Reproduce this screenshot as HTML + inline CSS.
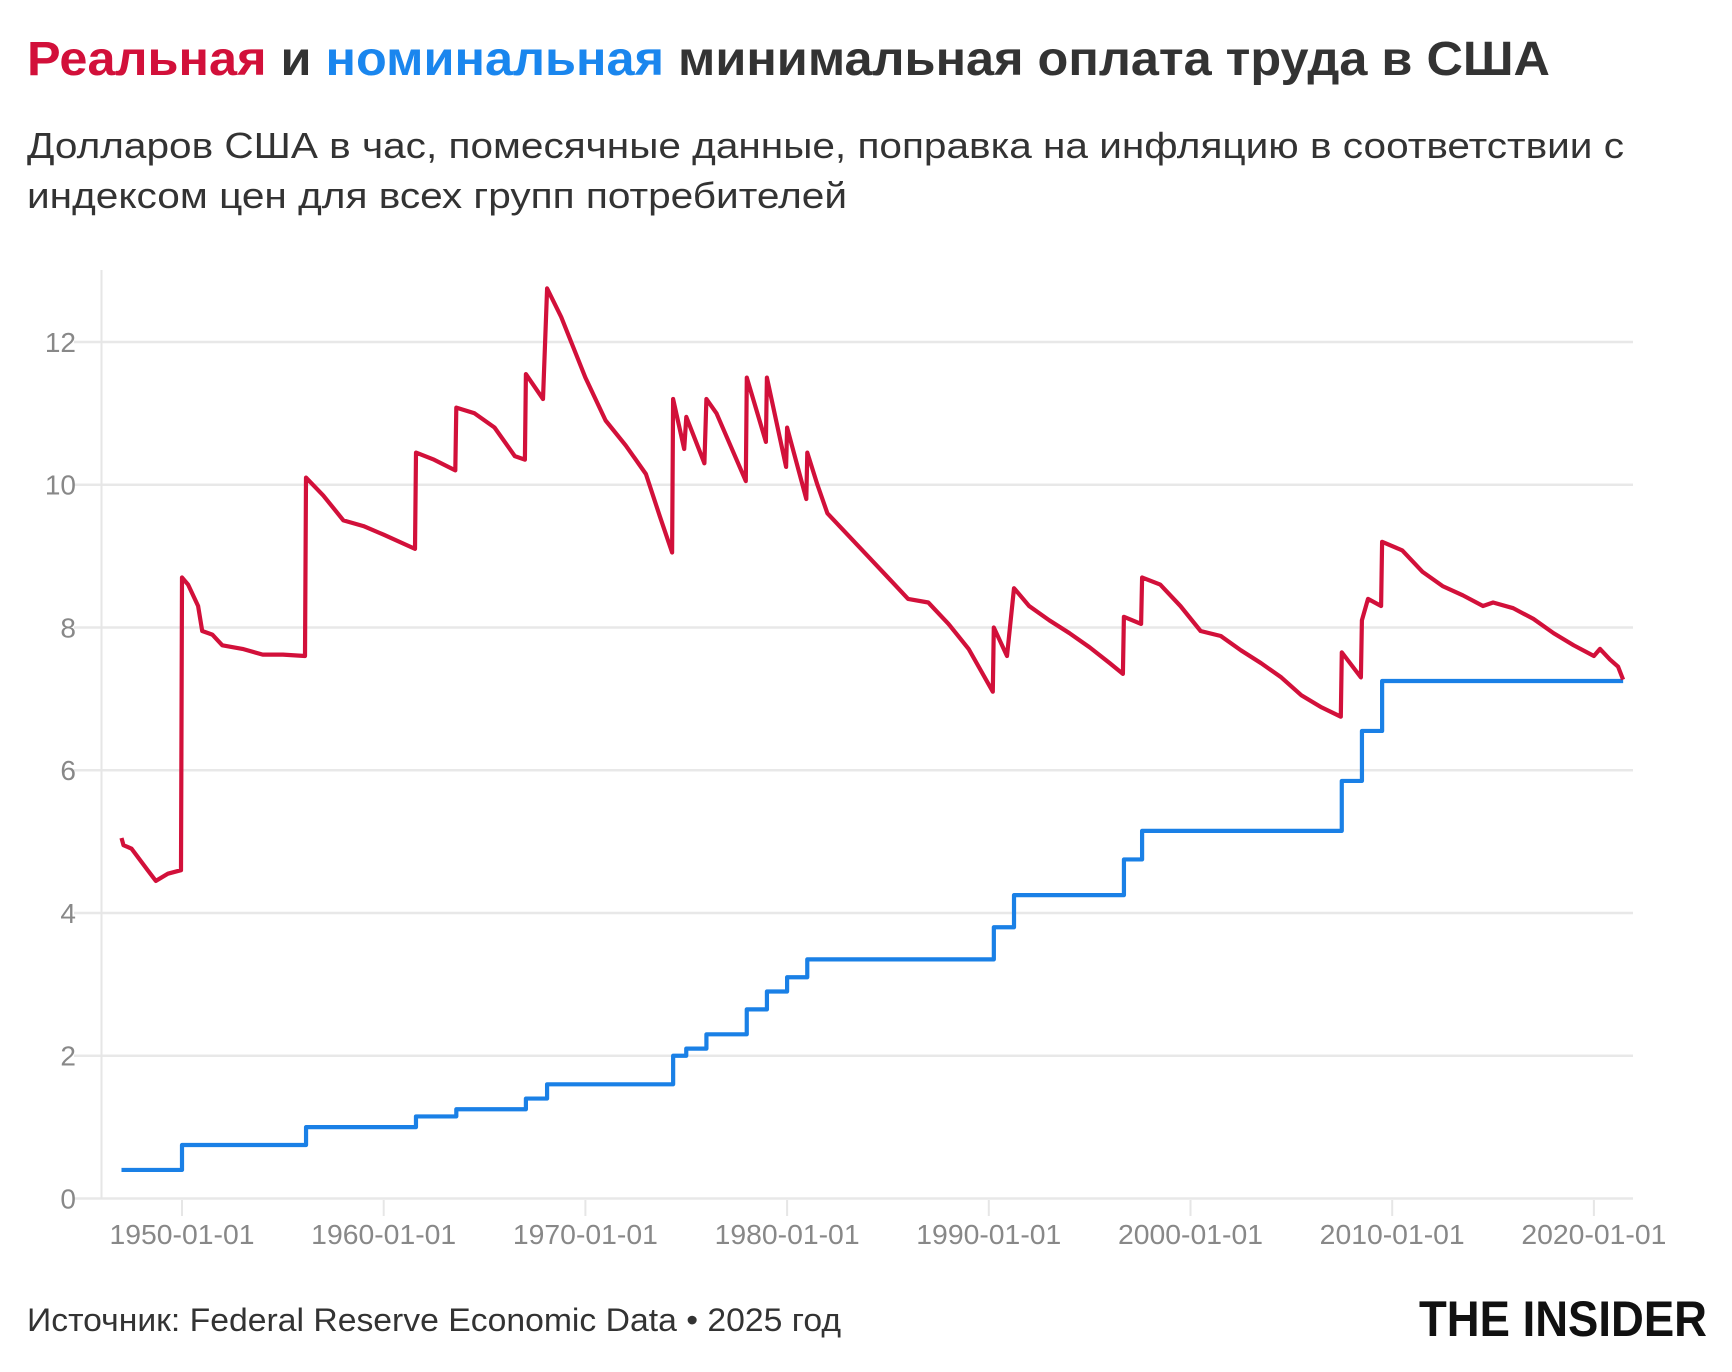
<!DOCTYPE html>
<html><head><meta charset="utf-8"><style>
html,body{margin:0;padding:0;background:#fff;}
svg{display:block;}
</style></head><body>
<svg id="s" width="1732" height="1372" viewBox="0 0 1732 1372" xmlns="http://www.w3.org/2000/svg">
<text x="27" y="75" font-family="Liberation Sans, sans-serif" font-weight="bold" font-size="48" textLength="1523" lengthAdjust="spacingAndGlyphs"><tspan fill="#d2103a">Реальная</tspan><tspan fill="#333"> и </tspan><tspan fill="#1a86ee">номинальная</tspan><tspan fill="#333"> минимальная оплата труда в США</tspan></text>
<text x="27" y="158" font-family="Liberation Sans Narrow, Liberation Sans, sans-serif" font-size="36" fill="#333" textLength="1597" lengthAdjust="spacingAndGlyphs">Долларов США в час, помесячные данные, поправка на инфляцию в соответствии с</text>
<text x="27" y="208" font-family="Liberation Sans Narrow, Liberation Sans, sans-serif" font-size="36" fill="#333" textLength="820" lengthAdjust="spacingAndGlyphs">индексом цен для всех групп потребителей</text>
<g id="grid"></g>
<line x1="101.5" y1="270" x2="101.5" y2="1199" stroke="#e6e6e6" stroke-width="2"/>
<path id="blue" fill="none" stroke="#1a80e6" stroke-width="4.2" stroke-linejoin="round"/>
<path id="red" fill="none" stroke="#d2103a" stroke-width="4.2" stroke-linejoin="round"/>
<text x="27" y="1331" font-family="Liberation Sans Narrow, Liberation Sans, sans-serif" font-size="32" fill="#333" textLength="814" lengthAdjust="spacingAndGlyphs">Источник: Federal Reserve Economic Data • 2025 год</text>
<text x="1419" y="1336" font-family="Liberation Sans Narrow, Liberation Sans, sans-serif" font-weight="bold" font-size="50" fill="#111" textLength="288" lengthAdjust="spacingAndGlyphs">THE INSIDER</text>
</svg>
<script>
function X(y){return 182+(y-1950)*20.17;}
function Y(v){return 1198.5-v*71.38;}
var g=document.getElementById("grid"),h="";
for(var v=0;v<=12;v+=2){var y=Y(v);
h+='<line x1="74" x2="1633" y1="'+y+'" y2="'+y+'" stroke="#e8e8e8" stroke-width="2.5"/>';
h+='<text x="76" y="'+(y+10)+'" text-anchor="end" font-family="Liberation Sans Narrow, Liberation Sans, sans-serif" font-size="28" fill="#888">'+v+'</text>';}
for(var d=1950;d<=2020;d+=10){var x=X(d);
h+='<line x1="'+x+'" x2="'+x+'" y1="1200" y2="1216" stroke="#e6e6e6" stroke-width="2"/>';
h+='<text x="'+x+'" y="1244" text-anchor="middle" font-family="Liberation Sans Narrow, Liberation Sans, sans-serif" font-size="28" fill="#888" textLength="145" lengthAdjust="spacingAndGlyphs">'+d+'-01-01</text>';}
g.innerHTML=h;
var steps=[[1947,0.40],[1950.0,0.75],[1956.15,1.00],[1961.6,1.15],[1963.6,1.25],[1967.05,1.40],[1968.1,1.60],[1974.35,2.00],[1975.0,2.10],[1976.0,2.30],[1978.0,2.65],[1979.0,2.90],[1980.0,3.10],[1981.0,3.35],[1990.25,3.80],[1991.25,4.25],[1996.7,4.75],[1997.6,5.15],[2007.5,5.85],[2008.5,6.55],[2009.5,7.25]];
var end=2021.45,d="M"+X(1947)+","+Y(0.40);
for(var i=1;i<steps.length;i++){d+=" H"+X(steps[i][0])+" V"+Y(steps[i][1]);}
d+=" H"+X(end);
document.getElementById("blue").setAttribute("d",d);
var r=[[1947.0,5.05],[1947.1,4.95],[1947.5,4.9],[1948.3,4.6],[1948.7,4.45],[1949.3,4.55],[1949.95,4.6],[1950.0,8.7],[1950.3,8.6],[1950.8,8.3],[1951.0,7.95],[1951.5,7.9],[1952,7.75],[1953,7.7],[1954,7.62],[1955,7.62],[1956.1,7.6],[1956.15,10.1],[1957,9.85],[1958,9.5],[1959,9.42],[1960,9.3],[1961.55,9.1],[1961.6,10.45],[1962.5,10.35],[1963.55,10.2],[1963.6,11.08],[1964.5,11.0],[1965.5,10.8],[1966.5,10.4],[1967.0,10.35],[1967.05,11.55],[1967.9,11.2],[1968.1,12.75],[1968.8,12.35],[1970,11.5],[1971,10.9],[1972,10.55],[1973,10.15],[1973.7,9.55],[1974.3,9.05],[1974.35,11.2],[1974.9,10.5],[1975.0,10.95],[1975.9,10.3],[1976.0,11.2],[1976.5,11.0],[1977.95,10.05],[1978.0,11.5],[1978.95,10.6],[1979.0,11.5],[1979.95,10.25],[1980.0,10.8],[1980.95,9.8],[1981.0,10.45],[1981.5,10.0],[1982,9.6],[1983,9.3],[1984,9.0],[1985,8.7],[1986,8.4],[1987,8.35],[1988,8.05],[1989,7.7],[1990.2,7.1],[1990.25,8.0],[1990.9,7.6],[1991.25,8.55],[1992,8.3],[1993,8.1],[1994,7.92],[1995,7.72],[1996,7.5],[1996.65,7.35],[1996.7,8.15],[1997.55,8.05],[1997.6,8.7],[1998.5,8.6],[1999.5,8.3],[2000.5,7.95],[2001.5,7.88],[2002.5,7.68],[2003.5,7.5],[2004.5,7.3],[2005.5,7.05],[2006.5,6.88],[2007.45,6.75],[2007.5,7.65],[2008.45,7.3],[2008.5,8.1],[2008.8,8.4],[2009.45,8.3],[2009.5,9.2],[2010.5,9.08],[2011.5,8.78],[2012.5,8.58],[2013.5,8.45],[2014.5,8.3],[2015,8.35],[2016,8.27],[2017,8.12],[2018,7.92],[2019,7.75],[2020,7.6],[2020.3,7.7],[2020.8,7.55],[2021.2,7.45],[2021.45,7.27]];
var p="";for(var j=0;j<r.length;j++){p+=(j?" L":"M")+X(r[j][0]).toFixed(1)+","+Y(r[j][1]).toFixed(1);}
document.getElementById("red").setAttribute("d",p);
</script>
</body></html>
